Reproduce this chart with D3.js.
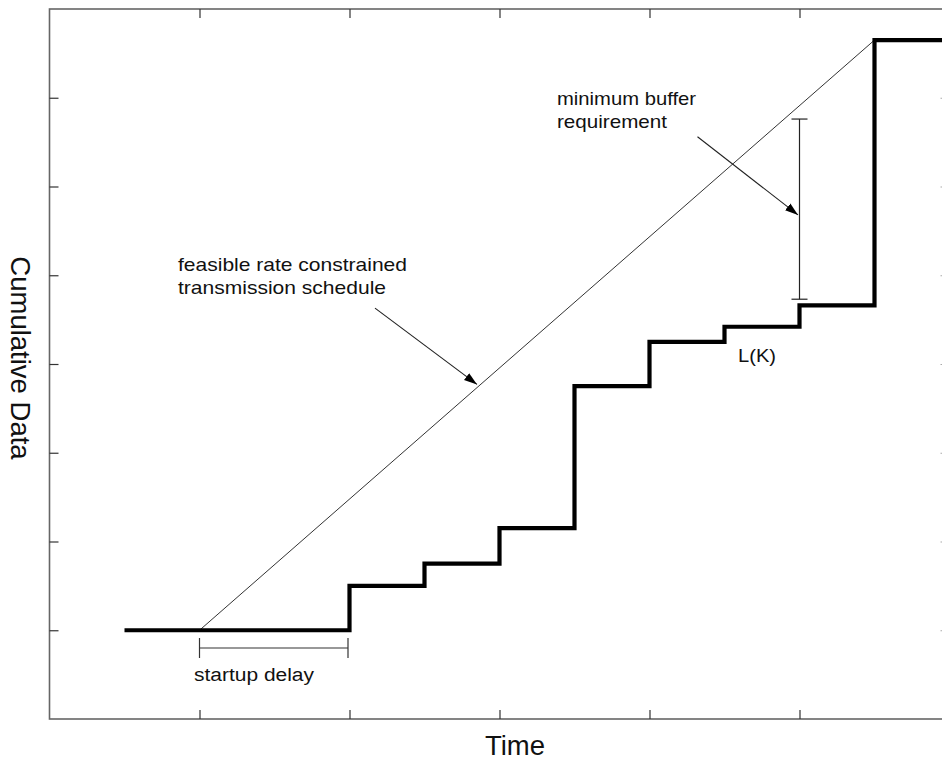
<!DOCTYPE html>
<html>
<head>
<meta charset="utf-8">
<script src="https://cdn.jsdelivr.net/npm/d3@7"></script>
<style>
  html, body { margin: 0; padding: 0; background: #fff; }
  svg { display: block; }
  text { font-family: "Liberation Sans", Arial, Helvetica, sans-serif; fill: #111; }
</style>
</head>
<body>
<svg id="chart" width="942" height="760"></svg>
<script>
// Playback curve L(K): each level holds from stepTimes[i] until stepTimes[i+1]
const stepTimes  = [0.5, 2.0, 2.5, 3.0, 3.5, 4.0, 4.5, 5.0, 5.5, 6.0];
const stepLevels = [1.0, 1.5, 1.75, 2.15, 3.75, 4.25, 4.42, 4.66, 7.65, 7.65];

// Rate-constrained transmission schedule (straight line)
const scheduleTimes  = [1.0, 5.5];
const scheduleLevels = [1.0, 7.65];

// Axis tick positions (unlabelled)
const xTicks = [1, 2, 3, 4, 5];
const yTicks = [1, 2, 3, 4, 5, 6, 7];

// Annotation anchors in data units
const startupSpan  = [1.0, 1.99];   // startup delay bracket, time range
const startupLevel = 0.8;
const bufferTime   = 5.0;           // minimum buffer bracket
const bufferSpan   = [4.73, 6.76];
const scheduleArrow = [[2.17, 4.63], [2.85, 3.77]];
const bufferArrow   = [[4.32, 6.56], [4.99, 5.68]];

const svg = d3.select("#chart");

const x = d3.scaleLinear().domain([0, 6]).range([49.5, 949.5]);
const y = d3.scaleLinear().domain([0, 8]).range([719, 9]);

// Arrowhead marker
svg.append("defs").append("marker")
  .attr("id", "arrow")
  .attr("viewBox", "0 0 12 8")
  .attr("refX", 12).attr("refY", 4)
  .attr("markerWidth", 13).attr("markerHeight", 9)
  .attr("markerUnits", "userSpaceOnUse")
  .attr("orient", "auto")
  .append("path").attr("d", "M0,0 L12,4 L0,8 Z").attr("fill", "#000");

// Frame
svg.append("rect")
  .attr("x", x(0)).attr("y", y(8))
  .attr("width", x(6) - x(0)).attr("height", y(0) - y(8))
  .attr("fill", "none").attr("stroke", "#666").attr("stroke-width", 1.6);

// Inward ticks on all four sides
const tickLen = 9;
const axisStyle = colour => g => {
  g.select(".domain").remove();
  g.selectAll(".tick line").attr("stroke", colour).attr("stroke-width", 1.2);
  g.selectAll(".tick text").remove();
};
svg.append("g").attr("transform", `translate(0,${y(0)})`)
  .call(d3.axisBottom(x).tickValues(xTicks).tickSize(-tickLen)).call(axisStyle("#333"));
svg.append("g").attr("transform", `translate(0,${y(8)})`)
  .call(d3.axisTop(x).tickValues(xTicks).tickSize(-tickLen)).call(axisStyle("#333"));
svg.append("g").attr("transform", `translate(${x(0)},0)`)
  .call(d3.axisLeft(y).tickValues(yTicks).tickSize(-tickLen)).call(axisStyle("#333"));
svg.append("g").attr("transform", `translate(${x(6)},0)`)
  .call(d3.axisRight(y).tickValues(yTicks).tickSize(-tickLen)).call(axisStyle("#aaa"));

// Transmission schedule line
svg.append("path")
  .datum(d3.zip(scheduleTimes, scheduleLevels))
  .attr("d", d3.line().x(d => x(d[0])).y(d => y(d[1])))
  .attr("fill", "none").attr("stroke", "#333").attr("stroke-width", 1);

// Playback staircase
svg.append("path")
  .datum(d3.zip(stepTimes, stepLevels))
  .attr("d", d3.line().curve(d3.curveStepAfter).x(d => x(d[0])).y(d => y(d[1])))
  .attr("fill", "none").attr("stroke", "#000").attr("stroke-width", 4.2)
  .attr("stroke-linejoin", "miter").attr("stroke-linecap", "butt");

// Startup delay bracket
const sd = svg.append("g").attr("stroke", "#333").attr("stroke-width", 1.2);
sd.append("line").attr("x1", x(startupSpan[0])).attr("x2", x(startupSpan[1]))
  .attr("y1", y(startupLevel)).attr("y2", y(startupLevel));
startupSpan.forEach(t => sd.append("line")
  .attr("x1", x(t)).attr("x2", x(t))
  .attr("y1", y(startupLevel) - 10).attr("y2", y(startupLevel) + 10));

// Minimum buffer bracket
const mb = svg.append("g").attr("stroke", "#222").attr("stroke-width", 1.2);
mb.append("line").attr("x1", x(bufferTime)).attr("x2", x(bufferTime))
  .attr("y1", y(bufferSpan[0])).attr("y2", y(bufferSpan[1]));
bufferSpan.forEach(v => mb.append("line")
  .attr("x1", x(bufferTime) - 8).attr("x2", x(bufferTime) + 8)
  .attr("y1", y(v)).attr("y2", y(v)));

// Annotation arrows
[scheduleArrow, bufferArrow].forEach(a => svg.append("line")
  .attr("x1", x(a[0][0])).attr("y1", y(a[0][1]))
  .attr("x2", x(a[1][0])).attr("y2", y(a[1][1]))
  .attr("stroke", "#222").attr("stroke-width", 1.1)
  .attr("marker-end", "url(#arrow)"));

// Labels
const label = (txt, px, py, size, len) => {
  const t = svg.append("text").attr("x", px).attr("y", py)
    .attr("font-size", size).text(txt);
  if (len) t.attr("textLength", len).attr("lengthAdjust", "spacingAndGlyphs");
  return t;
};
label("feasible rate constrained", 178, 271, 19, 229);
label("transmission schedule", 178, 294, 19, 208);
label("minimum buffer", 557, 105, 18.5, 139);
label("requirement", 557, 128, 18.5, 110);
label("L(K)", 738, 362, 18, 38);
label("startup delay", 194, 681, 18, 120);

svg.append("text").attr("x", 515).attr("y", 755)
  .attr("text-anchor", "middle").attr("font-size", 27.5).text("Time");
svg.append("text")
  .attr("transform", "translate(11,358) rotate(90)")
  .attr("text-anchor", "middle").attr("font-size", 27.5).text("Cumulative Data");
</script>
</body>
</html>
